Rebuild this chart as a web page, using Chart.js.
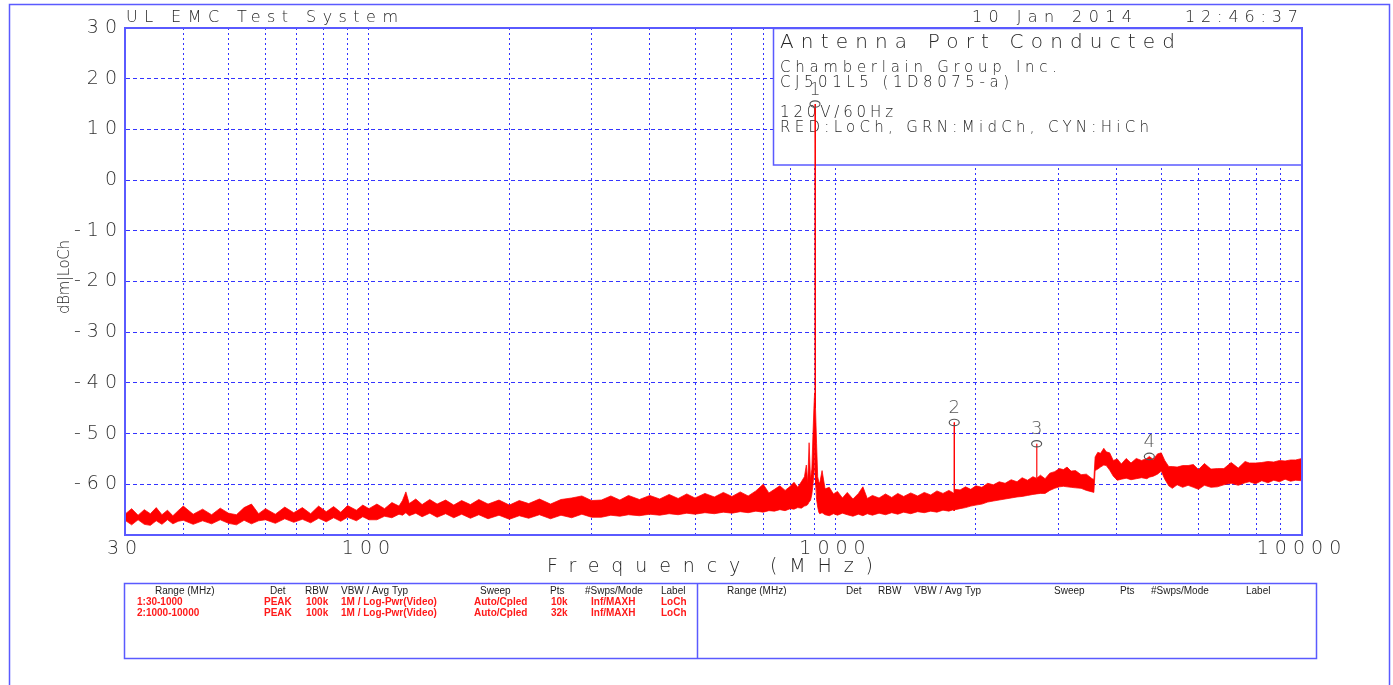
<!DOCTYPE html>
<html>
<head>
<meta charset="utf-8">
<script src="https://cdn.jsdelivr.net/npm/chart.js@4.4.1/dist/chart.umd.min.js"></script>
<style>
  html, body { margin: 0; background: #fff; }
</style>
</head>
<body>
<canvas id="emcChart" width="1393" height="685"></canvas>
<script>
// spectrum trace (upper / lower edge of the red band)
const freqMHz = [
  30, 31, 32, 33, 34, 35, 36, 37, 38, 39, 40, 42, 44, 46, 48, 50, 52, 54, 56, 58,
  60, 63, 66, 69, 72, 75, 78, 81, 84, 87, 90, 94, 97, 100,
  104, 108, 112, 116, 118, 120, 122, 126, 130, 135, 140, 146, 152, 158, 165, 172,
  180, 190, 200, 210, 220, 232, 245, 258, 272, 286, 300,
  315, 330, 345, 360, 380, 400, 420, 440, 460, 480, 500, 525, 550, 575, 600, 625,
  650, 675, 700, 720, 740, 760, 780, 800, 815, 830, 845, 858, 866, 872, 878, 884,
  890, 895, 899,
  902, 903.5, 904, 904.5, 906, 908, 911, 916, 921,
  925, 936, 950, 970, 990, 1010, 1035, 1060, 1090, 1120, 1145, 1170, 1200, 1240,
  1280, 1320, 1360, 1400, 1450, 1500, 1550, 1600, 1650, 1700, 1750, 1790, 1795,
  1797, 1799, 1805,
  1850, 1900, 1950, 2000, 2060, 2120, 2180, 2243, 2310, 2380, 2450, 2512, 2580,
  2650, 2695, 2699, 2703, 2750, 2814, 2880, 2950, 3020, 3080, 3136, 3200, 3270,
  3361, 3450, 3549,
  3580, 3602, 3650, 3700, 3760, 3805, 3870, 3940, 4018, 4100, 4200, 4300, 4413,
  4530, 4650, 4707, 4800, 4900, 4993, 5080, 5180, 5272, 5400, 5550, 5700, 5850,
  6000, 6178, 6380, 6586, 6800, 7050, 7300, 7550, 7712, 7950, 8200, 8450, 8700,
  8950, 9200, 9450, 9690, 10000
];
const traceHigh = [
  -65.9, -64.8, -66.1, -65.0, -65.8, -64.6, -66.0, -65.1, -66.2, -65.2,
  -64.3, -65.9, -64.9, -66.0, -64.7, -65.7, -66.0, -64.6, -63.9, -65.8,
  -64.8, -65.9, -64.5, -65.6, -64.6, -65.8, -64.3, -65.4, -64.4, -65.5,
  -64.2, -65.1, -64.1, -64.8,
  -63.9, -64.8, -63.6, -64.3, -63.2, -61.5, -63.8, -62.9, -64.0, -63.0,
  -63.9, -63.1, -64.1, -63.2, -64.0, -63.0, -63.9, -63.1, -64.1, -63.2,
  -63.8, -62.9, -63.9, -63.0, -62.7, -62.3, -63.2,
  -63.1, -62.3, -63.1, -62.2, -63.0, -62.2, -62.9, -62.0, -62.8, -61.9,
  -62.7, -61.8, -62.5, -61.6, -62.4, -61.5, -62.3, -61.3, -60.0, -61.7,
  -61.0, -60.3, -61.2, -60.4, -59.6, -60.6, -59.5, -58.5, -56.2, -59.7,
  -51.8, -59.0, -57.0, -50.0, -45.0,
  -42, -40, 15, -40, -42, -45, -52, -58.5, -59.5,
  -59.8, -57.3, -60.9, -60.6, -61.9, -61.4, -62.7, -61.6, -62.9, -61.8,
  -60.5, -62.8, -62.2, -62.7, -61.9, -62.6, -61.8, -62.4, -61.7, -62.3,
  -61.6, -62.1, -61.3, -61.8, -61.2, -61.7, -61.6, -47.8, -61.5, -61.0,
  -61.1, -60.5, -61.0, -60.3, -60.6, -59.8, -60.1, -59.5, -59.8, -59.1,
  -59.5, -58.7, -59.2, -58.5, -58.8, -52.0, -58.8, -58.2, -58.9, -57.8,
  -57.5, -56.9, -57.1, -56.6, -57.4, -57.3, -58.1, -58.0, -58.9,
  -59.0, -54.6, -53.7, -53.9, -52.9, -53.6, -53.8, -55.3, -55.0, -56.0,
  -54.9, -55.8, -54.9, -55.3, -54.9, -54.5, -55.1, -54.0, -53.8, -55.3,
  -56.5, -56.5, -56.6, -56.3, -56.3, -56.1, -57.1, -55.9, -57.0, -56.9,
  -56.9, -55.7, -56.8, -55.5, -55.8, -55.8, -55.7, -55.5, -55.6, -55.3,
  -55.4, -55.2, -55.2, -54.9
];
const traceLow = [
  -67.1, -68.0, -67.0, -67.9, -68.1, -67.2, -67.9, -67.0, -67.8, -67.3,
  -67.1, -67.9, -67.2, -67.8, -67.0, -67.7, -68.0, -67.1, -67.8, -67.2,
  -67.0, -67.7, -66.8, -67.5, -66.9, -67.6, -66.7, -67.4, -66.6, -67.3,
  -66.5, -67.2, -66.4, -67.0,
  -67.0, -66.3, -66.6, -65.9, -66.1, -65.6, -66.2, -65.7, -66.4, -65.7,
  -66.5, -65.8, -66.6, -65.9, -66.7, -66.0, -66.8, -66.1, -66.9, -66.2,
  -66.7, -66.0, -66.8, -66.1, -66.6, -65.9, -66.5,
  -66.5, -66.1, -66.3, -66.0, -66.2, -65.9, -66.1, -65.8, -66.0, -65.7,
  -65.9, -65.6, -65.8, -65.5, -65.7, -65.4, -65.6, -65.3, -65.5, -65.2,
  -65.3, -65.0, -65.2, -64.8, -64.9, -64.6, -64.7, -64.3, -64.2, -64.0,
  -63.5, -63.2, -62.0, -60.0, -58.0,
  -57, -52, -48, -52, -56, -60, -63, -64.5, -65.5,
  -65.8, -65.6, -66.0, -66.2, -65.8, -66.1, -65.7, -66.0, -66.3, -65.9,
  -66.2, -65.8, -66.1, -65.7, -66.0, -65.6, -65.9, -65.5, -65.8, -65.4,
  -65.6, -65.3, -65.5, -65.1, -65.3, -65.0, -65.2, -65.1, -65.2, -65.0,
  -64.8, -64.6, -64.3, -64.1, -63.9, -63.5, -63.3, -63.1, -62.9, -62.7,
  -62.5, -62.4, -62.2, -62.0, -61.9, -61.9, -61.9, -61.8, -61.8, -61.2,
  -60.8, -60.5, -60.4, -60.5, -60.6, -60.7, -60.8, -61.2, -61.5,
  -61.6, -57.3, -57.0, -56.6, -56.2, -56.3, -57.2, -58.4, -59.2, -59.0,
  -58.8, -59.1, -58.9, -58.7, -58.9, -58.6, -58.4, -58.0, -57.4, -59.0,
  -60.3, -60.8, -60.1, -60.6, -60.2, -60.6, -61.0, -60.2, -60.6, -60.5,
  -60.1, -59.8, -60.2, -59.7, -59.5, -59.9, -59.3, -59.7, -59.2, -59.5,
  -59.0, -59.4, -59.2, -59.3
];

// markers
const markerFreqs = [904, 1797, 2699, 4707];
const markerLevels = [15, -47.8, -52.0, -54.5];
const markerNames = ['1', '2', '3', '4'];

// axes
const xGridMHz = [30, 40, 50, 60, 70, 80, 90, 100, 200, 300, 400, 500, 600, 700, 800, 900,
  1000, 2000, 3000, 4000, 5000, 6000, 7000, 8000, 9000, 10000];
const xLabelMHz = [30, 100, 1000, 10000];
const yTicks = [-70, -60, -50, -40, -30, -20, -10, 0, 10, 20, 30];

// header / info texts
const sysTitle = 'UL EMC Test System';
const testDate = '10 Jan 2014';
const testTime = '12:46:37';
const infoLines = ['Antenna Port Conducted', 'Chamberlain Group Inc.', 'CJ501L5 (1D8075-a)',
  '120V/60Hz', 'RED:LoCh, GRN:MidCh, CYN:HiCh'];
const tableHead = ['Range (MHz)', 'Det', 'RBW', 'VBW / Avg Typ', 'Sweep', 'Pts', '#Swps/Mode', 'Label'];
const rangeRows = [
  ['1:30-1000', 'PEAK', '100k', '1M / Log-Pwr(Video)', 'Auto/Cpled', '10k', 'Inf/MAXH', 'LoCh'],
  ['2:1000-10000', 'PEAK', '100k', '1M / Log-Pwr(Video)', 'Auto/Cpled', '32k', 'Inf/MAXH', 'LoCh']
];

const BLUE = '#5a5aff';
const GRID = 'rgba(30,30,255,0.9)';
const INK = '#262626';
const FONT = '"DejaVu Sans", sans-serif';

// draws text stretched out to a given width with letter spacing (plotter look)
function fitText(ctx, text, x, y, size, width, color) {
  ctx.save();
  ctx.font = `200 ${size}px ${FONT}`;
  ctx.letterSpacing = '0px';
  const raw = ctx.measureText(text).width;
  const gap = text.length > 1 ? (width - raw) / (text.length - 1) : 0;
  ctx.letterSpacing = gap + 'px';
  ctx.fillStyle = color || INK;
  ctx.textBaseline = 'middle';
  ctx.textAlign = 'left';
  ctx.fillText(text, x, y);
  ctx.restore();
}

const plotterText = {
  id: 'plotterText',
  beforeDraw(chart) {
    // wide spacing for the tick labels chart.js draws
    chart.ctx.letterSpacing = '6px';
  },
  beforeDatasetsDraw(chart) {
    const ctx = chart.ctx;
    // info box, opaque over the grid
    ctx.save();
    ctx.fillStyle = '#fff';
    ctx.fillRect(773.5, 28.5, 528.5, 136.5);
    ctx.strokeStyle = BLUE;
    ctx.lineWidth = 1.5;
    ctx.strokeRect(773.5, 28.5, 528.5, 136.5);
    ctx.restore();
    fitText(ctx, infoLines[0], 780, 43, 20, 395);
    fitText(ctx, infoLines[1], 780, 68, 15, 277);
    fitText(ctx, infoLines[2], 780, 83, 15, 229);
    fitText(ctx, infoLines[3], 780, 113, 15, 113);
    fitText(ctx, infoLines[4], 780, 128, 15, 369);
  },
  afterDatasetsDraw(chart) {
    const ctx = chart.ctx;
    const xs = chart.scales.x, ys = chart.scales.y;
    ctx.save();
    ctx.strokeStyle = '#555';
    ctx.fillStyle = '#555';
    ctx.lineWidth = 1.2;
    ctx.letterSpacing = '0px';
    ctx.font = `200 18px ${FONT}`;
    ctx.textAlign = 'center';
    ctx.textBaseline = 'middle';
    markerFreqs.forEach((f, i) => {
      const px = xs.getPixelForValue(f);
      const py = ys.getPixelForValue(markerLevels[i]);
      ctx.beginPath();
      ctx.ellipse(px, py, 5, 3.2, 0, 0, Math.PI * 2);
      ctx.stroke();
      ctx.fillText(markerNames[i], px, py - 14);
    });
    ctx.restore();
  },
  afterDraw(chart) {
    const ctx = chart.ctx;
    const a = chart.chartArea;
    ctx.save();
    ctx.letterSpacing = '0px';
    ctx.strokeStyle = BLUE;
    ctx.lineWidth = 2;
    ctx.strokeRect(a.left, a.top, a.right - a.left, a.bottom - a.top);
    // page frame
    ctx.lineWidth = 1.5;
    ctx.strokeRect(9.5, 4.5, 1380, 700);
    ctx.restore();

    fitText(ctx, sysTitle, 126, 18, 16, 272);
    fitText(ctx, testDate, 972, 18, 16, 160);
    fitText(ctx, testTime, 1185, 18, 16, 113);
    fitText(ctx, 'Frequency (MHz)', 547, 567, 19, 326);

    ctx.save();
    ctx.translate(65, 277);
    ctx.rotate(-Math.PI / 2);
    fitText(ctx, 'dBm|LoCh', -37, 0, 15, 74);
    ctx.restore();

    // settings table
    ctx.save();
    ctx.letterSpacing = '0px';
    ctx.strokeStyle = BLUE;
    ctx.lineWidth = 1.5;
    ctx.strokeRect(124.5, 583.5, 1192, 75);
    ctx.beginPath();
    ctx.moveTo(697.5, 583.5);
    ctx.lineTo(697.5, 658.5);
    ctx.stroke();
    ctx.textBaseline = 'middle';
    ctx.textAlign = 'left';
    const headLeft = [155, 270, 305, 341, 480, 550, 585, 661];
    const rowLeft = [137, 264, 306, 341, 474, 551, 591, 661];
    const headRight = [727, 846, 878, 914, 1054, 1120, 1151, 1246];
    ctx.font = `10px "Liberation Sans", sans-serif`;
    ctx.fillStyle = '#222';
    tableHead.forEach((t, i) => ctx.fillText(t, headRight[i], 591));
    ctx.beginPath();
    ctx.rect(125, 584, 571, 74);
    ctx.clip();
    tableHead.forEach((t, i) => ctx.fillText(t, headLeft[i], 591));
    ctx.font = `bold 10px "Liberation Sans", sans-serif`;
    ctx.fillStyle = '#ff1a1a';
    rangeRows.forEach((row, r) => {
      row.forEach((t, i) => ctx.fillText(t, rowLeft[i], 602 + r * 11));
    });
    ctx.restore();
  }
};

const highPts = freqMHz.map((f, i) => ({ x: f, y: traceHigh[i] }));
const lowPts = freqMHz.map((f, i) => ({ x: f, y: traceLow[i] }));

new Chart(document.getElementById('emcChart').getContext('2d'), {
  type: 'line',
  data: {
    datasets: [
      {
        label: 'LoCh',
        data: highPts,
        borderColor: 'rgba(255,0,0,0.75)',
        backgroundColor: '#ff0000',
        borderWidth: 1,
        pointRadius: 0,
        tension: 0,
        fill: '+1'
      },
      {
        label: 'LoCh floor',
        data: lowPts,
        borderColor: 'rgba(255,0,0,0.75)',
        borderWidth: 1,
        pointRadius: 0,
        tension: 0,
        fill: false
      }
    ]
  },
  options: {
    responsive: false,
    animation: false,
    events: [],
    layout: { padding: { top: 28, right: 91, left: 0, bottom: 0 } },
    plugins: { legend: { display: false }, tooltip: { enabled: false } },
    scales: {
      x: {
        type: 'logarithmic',
        min: 30,
        max: 10000,
        afterFit: (s) => { s.height = 150; },
        afterBuildTicks: (s) => { s.ticks = xGridMHz.map(v => ({ value: v })); },
        grid: { color: GRID, lineWidth: 1, drawTicks: false },
        border: { color: BLUE, width: 2, dash: [2, 3] },
        ticks: {
          autoSkip: false,
          maxRotation: 0,
          padding: 3,
          color: '#333',
          font: { family: FONT, size: 19, weight: 200 },
          callback: (v) => xLabelMHz.includes(v) ? String(v) : ''
        }
      },
      y: {
        min: -70,
        max: 30,
        afterFit: (s) => { s.width = 125; },
        afterBuildTicks: (s) => { s.ticks = yTicks.map(v => ({ value: v })); },
        grid: { color: GRID, lineWidth: 1, drawTicks: false },
        border: { color: BLUE, width: 2, dash: [4, 3] },
        ticks: {
          padding: 2,
          color: '#333',
          font: { family: FONT, size: 19, weight: 200 },
          callback: (v) => v === -70 ? '' : String(v)
        }
      }
    }
  },
  plugins: [plotterText]
});
</script>
</body>
</html>
